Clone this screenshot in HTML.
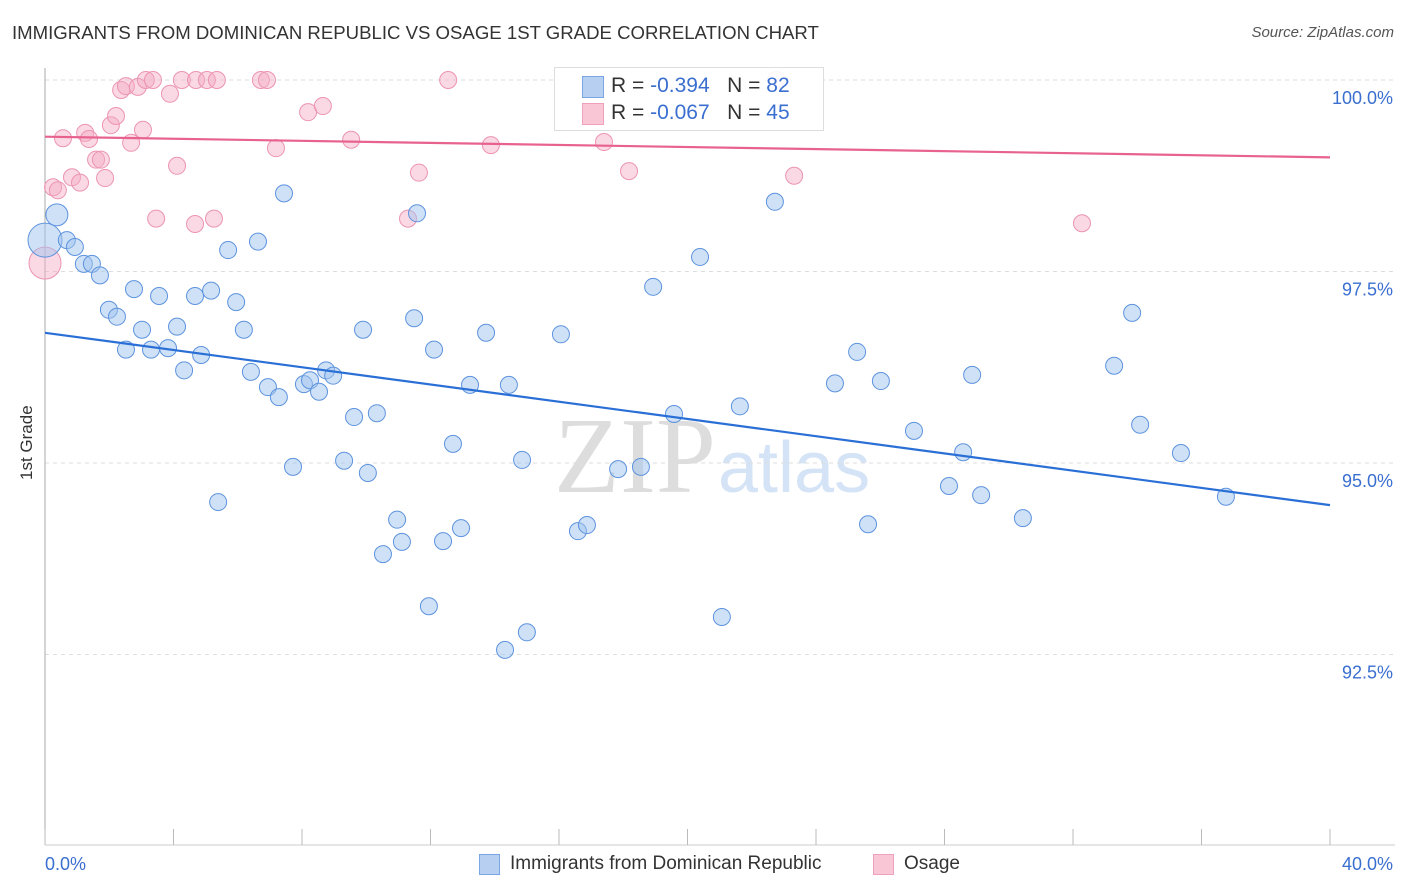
<!DOCTYPE html>
<html><head><meta charset="utf-8">
<style>
body{margin:0;background:#fff;font-family:"Liberation Sans",sans-serif;}
#wrap{position:relative;width:1406px;height:892px;overflow:hidden;}
.t{position:absolute;white-space:nowrap;}
</style></head>
<body>
<div id="wrap">
<div class="t" style="left:12px;top:22px;font-size:18.6px;color:#333;">IMMIGRANTS FROM DOMINICAN REPUBLIC VS OSAGE 1ST GRADE CORRELATION CHART</div>
<div class="t" style="right:12px;top:24px;font-size:15px;color:#555;font-style:italic;">Source: ZipAtlas.com</div>
<div class="t" style="left:2px;top:445px;font-size:17px;color:#333;transform:rotate(-90deg);transform-origin:center;width:50px;text-align:center;">1st Grade</div>
<svg id="svg" width="1406" height="892" style="position:absolute;left:0;top:0">
<text x="716" y="492" font-size="108" font-family="Liberation Serif" fill="#ddd" text-anchor="end">ZIP</text>
<text x="718" y="492" font-size="72" font-family="Liberation Sans" fill="#d4e3f5">atlas</text>
</svg>
<div style="position:absolute;left:554px;top:67px;width:268px;height:62px;border:1px solid #ddd;background:rgba(255,255,255,0.9);font-size:21px;">
  <div style="position:absolute;left:27px;top:8px;width:20px;height:20px;background:#b7d0f2;border:1px solid #7aa6e3;"></div>
  <div class="t" style="left:56px;top:6px;color:#333;">R = <span style="color:#3a6fd0">-0.394</span>&nbsp;&nbsp;&nbsp;N = <span style="color:#3a6fd0">82</span></div>
  <div style="position:absolute;left:27px;top:35px;width:20px;height:20px;background:#f9c6d6;border:1px solid #efa0ba;"></div>
  <div class="t" style="left:56px;top:33px;color:#333;">R = <span style="color:#3a6fd0">-0.067</span>&nbsp;&nbsp;&nbsp;N = <span style="color:#3a6fd0">45</span></div>
</div>
<div>
  <div style="position:absolute;left:479px;top:854px;width:19px;height:19px;background:#b7d0f2;border:1px solid #7aa6e3;"></div>
  <div class="t" style="left:510px;top:853px;font-size:19px;color:#333;">Immigrants from Dominican Republic</div>
  <div style="position:absolute;left:873px;top:854px;width:19px;height:19px;background:#f9c6d6;border:1px solid #efa0ba;"></div>
  <div class="t" style="left:904px;top:853px;font-size:19px;color:#333;">Osage</div>
</div>
</div>
<script>
const blueX=[0.37,0,0.68,0.93,1.21,1.46,1.71,1.99,2.24,2.77,3.55,4.67,5.17,5.95,5.70,6.63,7.44,11.58,3.02,4.11,6.19,2.52,3.30,3.83,4.86,4.33,6.41,6.94,7.28,8.06,8.25,8.75,8.97,8.53,9.90,11.49,12.11,13.73,16.06,18.93,20.39,22.72,13.23,14.44,9.62,10.33,12.70,14.85,7.72,9.31,10.05,5.39,10.96,10.52,11.11,12.39,12.95,16.59,16.87,17.84,18.55,19.58,21.63,24.59,25.28,26.02,27.05,28.86,28.58,28.14,29.14,30.44,33.28,33.84,34.09,35.36,36.76,25.62,11.95,15.00,14.32,21.07];
const blueY=[98.24,97.91,97.91,97.82,97.60,97.60,97.45,97.00,96.91,97.27,97.18,97.18,97.25,97.10,97.78,97.89,98.52,98.26,96.74,96.78,96.74,96.48,96.48,96.50,96.41,96.21,96.19,95.99,95.86,96.03,96.08,96.21,96.14,95.93,96.74,96.89,96.48,96.70,96.68,97.30,97.69,98.41,96.02,96.02,95.60,95.65,95.25,95.04,94.95,95.03,94.87,94.49,94.26,93.81,93.97,93.98,94.15,94.11,94.19,94.92,94.95,95.64,95.74,96.04,96.45,96.07,95.42,96.15,95.14,94.70,94.58,94.28,96.27,96.96,95.50,95.13,94.56,94.20,93.13,92.79,92.56,92.99];
const pinkX=[0,0.25,0.40,0.56,0.84,1.09,1.25,1.37,1.59,1.74,1.87,2.05,2.21,2.37,2.52,2.68,2.89,3.05,3.14,3.36,3.89,4.26,4.70,5.04,5.35,4.11,3.46,4.67,5.26,6.72,6.91,7.19,8.19,8.65,9.53,11.30,11.64,12.55,13.88,17.40,18.18,22.76,23.32,32.28];
const pinkY=[97.61,98.60,98.56,99.24,98.73,98.66,99.31,99.23,98.96,98.96,98.72,99.41,99.53,99.87,99.92,99.18,99.91,99.35,100,100,99.82,100,100,100,100,98.88,98.19,98.12,98.19,100,100,99.11,99.58,99.66,99.22,98.19,98.79,100,99.15,99.19,98.81,100,98.75,98.13];
const blueTrend=[96.70,94.45];
const pinkTrend=[99.26,98.99];
const yTicks=[100,97.5,95,92.5];
const yTickLabels=["100.0%","97.5%","95.0%","92.5%"];
const xTicks=[0,4,8,12,16,20,24,28,32,36,40];

const X0=45,X1=1330;
const xs=v=>X0+v/40*(X1-X0);
const ys=v=>80+(100-v)/2.5*191.5;
const NS="http://www.w3.org/2000/svg";
const svg=document.getElementById('svg');
function mk(tag,attrs){const e=document.createElementNS(NS,tag);for(const k in attrs)e.setAttribute(k,attrs[k]);svg.appendChild(e);return e;}
yTicks.forEach((v,i)=>{
  const g=mk('line',{x1:X0,x2:1395,y1:ys(v),y2:ys(v),stroke:'#ddd','stroke-dasharray':'4,4'});
  
  
  const t=mk('text',{x:1393,y:ys(v)+24,'text-anchor':'end','font-size':18,fill:'#3a6fd0'});
  t.textContent=yTickLabels[i];
  
  
});
let ax=mk('line',{x1:X0,x2:X0,y1:68,y2:845,stroke:'#aaa'});


let bx=mk('line',{x1:X0,x2:1395,y1:845,y2:845,stroke:'#ccc'});


xTicks.forEach(v=>{
  const l=mk('line',{x1:xs(v),x2:xs(v),y1:829,y2:845,stroke:'#bbb'});
  
  
});
let xl0=mk('text',{x:45,y:870,'font-size':18,fill:'#3a6fd0'});xl0.textContent='0.0%';


let xl1=mk('text',{x:1393,y:870,'font-size':18,fill:'#3a6fd0','text-anchor':'end'});xl1.textContent='40.0%';


pinkX.forEach((v,i)=>{
  const c=mk('circle',{cx:xs(v),cy:ys(pinkY[i]),r:i===0?16:8.5,fill:'rgba(245,170,195,0.45)',stroke:'#ec94b2','stroke-width':1});
  
  
});
blueX.forEach((v,i)=>{
  const c=mk('circle',{cx:xs(v),cy:ys(blueY[i]),r:i===1?17:(i===0?11:8.5),fill:'rgba(160,195,238,0.5)',stroke:'#5d93de','stroke-width':1});
  
  
});
let tb=mk('line',{x1:xs(0),x2:xs(40),y1:ys(blueTrend[0]),y2:ys(blueTrend[1]),stroke:'#2a6fd6','stroke-width':2.2});


let tp=mk('line',{x1:xs(0),x2:xs(40),y1:ys(pinkTrend[0]),y2:ys(pinkTrend[1]),stroke:'#e8628e','stroke-width':2.2});


</script>
</body></html>
